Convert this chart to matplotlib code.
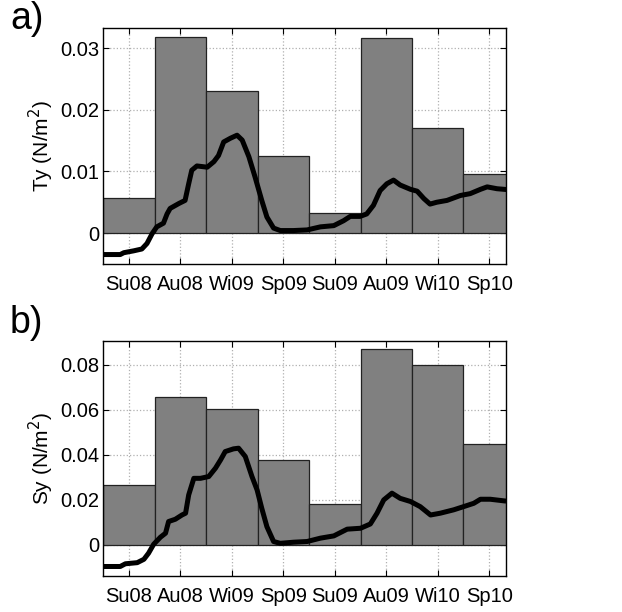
import numpy as np
import matplotlib
matplotlib.use('Agg')
import matplotlib.pyplot as plt

plt.rcParams['font.family'] = ['Liberation Sans', 'DejaVu Sans']

# 季节标签与柱高
seasons = ['Su08', 'Au08', 'Wi09', 'Sp09', 'Su09', 'Au09', 'Wi10', 'Sp10']
ty_bars = [0.00565, 0.0319, 0.0231, 0.01253, 0.00332, 0.03168, 0.01704, 0.00966]
sy_bars = [0.0268, 0.0658, 0.0604, 0.0378, 0.0184, 0.0871, 0.0802, 0.0447]

# 时间序列 (x 以季节为单位, Su08 = 0)
ty_x = [-0.49, -0.17, -0.10, 0.09, 0.25, 0.35, 0.45, 0.54, 0.67, 0.74, 0.80, 0.97,
        1.09, 1.16, 1.22, 1.32, 1.52, 1.65, 1.74, 1.84, 1.97, 2.10, 2.20, 2.33,
        2.45, 2.58, 2.68, 2.81, 2.94, 3.20, 3.46, 3.72, 3.98, 4.17, 4.30, 4.49,
        4.62, 4.75, 4.88, 5.01, 5.14, 5.27, 5.47, 5.60, 5.73, 5.85, 5.98, 6.18,
        6.44, 6.63, 6.83, 6.96, 7.15, 7.29]
ty_y = [-0.0035, -0.0035, -0.0032, -0.0029, -0.0026, -0.0017, -0.0001, 0.0010,
        0.0016, 0.0031, 0.0040, 0.0048, 0.0053, 0.0080, 0.0102, 0.0109, 0.0107,
        0.0116, 0.0126, 0.0148, 0.0154, 0.0159, 0.0151, 0.0124, 0.0091, 0.0053,
        0.0026, 0.0008, 0.0004, 0.0004, 0.0005, 0.0010, 0.0012, 0.0020, 0.0027,
        0.0027, 0.0031, 0.0045, 0.0069, 0.0080, 0.0086, 0.0078, 0.0071, 0.0068,
        0.0056, 0.0047, 0.0050, 0.0053, 0.0061, 0.0064, 0.0071, 0.0075, 0.0072,
        0.0071]

sy_x = [-0.49, -0.17, -0.07, 0.16, 0.29, 0.38, 0.48, 0.61, 0.71, 0.77, 0.90, 1.03,
        1.10, 1.16, 1.26, 1.39, 1.55, 1.68, 1.78, 1.87, 2.03, 2.13, 2.26, 2.39,
        2.49, 2.58, 2.68, 2.81, 2.94, 3.20, 3.46, 3.72, 3.98, 4.24, 4.50, 4.69,
        4.82, 4.95, 5.11, 5.27, 5.47, 5.66, 5.86, 6.05, 6.31, 6.50, 6.70, 6.83,
        7.02, 7.28]
sy_y = [-0.0096, -0.0096, -0.0084, -0.0079, -0.0064, -0.0037, 0.0003, 0.0034,
        0.0052, 0.0104, 0.0114, 0.0133, 0.0141, 0.0222, 0.0296, 0.0296, 0.0304,
        0.0341, 0.0378, 0.0415, 0.0427, 0.0430, 0.0393, 0.0304, 0.0244, 0.0163,
        0.0081, 0.0015, 0.0007, 0.0012, 0.0015, 0.0030, 0.0040, 0.0070, 0.0074,
        0.0093, 0.0141, 0.0200, 0.0230, 0.0207, 0.0193, 0.0170, 0.0133, 0.0141,
        0.0156, 0.0170, 0.0185, 0.0203, 0.0203, 0.0196]

fig = plt.figure(figsize=(6.22, 6.12), dpi=100)
ax1 = fig.add_axes([0.166, 0.568, 0.647, 0.387])
ax2 = fig.add_axes([0.166, 0.0593, 0.647, 0.384])


def draw(ax, bars, lx, ly, yticks, ylim, ylabel, tag, tag_y):
    x = np.arange(len(seasons))
    ax.set_axisbelow(True)
    ax.grid(True, color='#b0b0b0', linestyle=':', linewidth=0.9)
    ax.bar(x, bars, width=1.0, color='#808080', edgecolor='#222222', linewidth=0.9, zorder=2)
    ax.plot(lx, ly, color='k', linewidth=3.6, zorder=3, solid_joinstyle='round')
    ax.set_xlim(-0.5, 7.32)
    ax.set_ylim(*ylim)
    ax.set_xticks(x)
    ax.set_xticklabels(seasons)
    ax.set_yticks(yticks)
    ax.set_yticklabels(['0' if t == 0 else f'{t:g}' for t in yticks])
    ax.tick_params(direction='in', top=True, right=True, length=4, labelsize=14.5, width=0.8)
    ax.tick_params(axis='x', pad=8)
    ax.tick_params(axis='y', pad=3)
    ax.set_ylabel(ylabel, fontsize=15, labelpad=3)
    for s in ax.spines.values():
        s.set_linewidth(1.0)
    ax.text(-0.232, tag_y, tag, transform=ax.transAxes, fontsize=27, va='top', ha='left')


draw(ax1, ty_bars, ty_x, ty_y, [0, 0.01, 0.02, 0.03], (-0.0051, 0.0334),
     'Ty (N/m$^2$)', 'a)', 1.11)
draw(ax2, sy_bars, sy_x, sy_y, [0, 0.02, 0.04, 0.06, 0.08], (-0.0137, 0.0908),
     'Sy (N/m$^2$)', 'b)', 1.15)

plt.savefig('out.png', dpi=100)
